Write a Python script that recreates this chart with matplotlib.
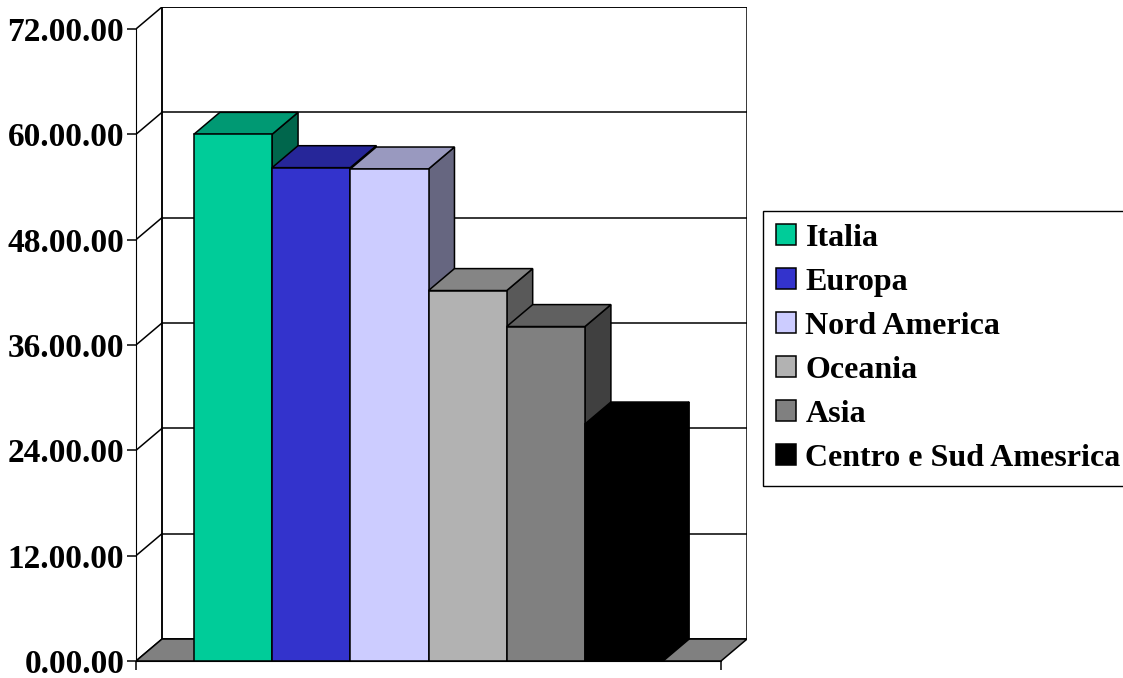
"""
Grafico a barre 3D (stile Excel): tempi per area geografica
"""

import matplotlib
matplotlib.use("Agg")
import matplotlib.pyplot as plt
from matplotlib.patches import Polygon, Rectangle, Patch

plt.rcParams.update({
    "font.family": ["Liberation Serif", "DejaVu Serif"],
    "font.weight": "bold",
})

# ──────────────────────────────────────────
# Dati
# ──────────────────────────────────────────
regions = ["Italia", "Europa", "Nord America", "Oceania", "Asia",
           "Centro e Sud Amesrica"]
values = [60.0, 56.2, 56.05, 42.2, 38.1, 27.0]
y_ticks = [0, 12, 24, 36, 48, 60, 72]
y_tick_labels = ["0.00.00", "12.00.00", "24.00.00", "36.00.00",
                 "48.00.00", "60.00.00", "72.00.00"]

# colori: fronte, top, lato
front_colors = ["#00CC99", "#3333CC", "#CCCCFF", "#B2B2B2", "#808080", "#000000"]
top_colors = ["#009973", "#262699", "#9999BF", "#858585", "#606060", "#000000"]
side_colors = ["#00664C", "#1A1A66", "#666680", "#595959", "#404040", "#000000"]

# ──────────────────────────────────────────
# Geometria (in unità dati)
# ──────────────────────────────────────────
X0 = -0.74          # bordo sinistro del pavimento
X1 = 6.74           # bordo destro del pavimento
DX = 0.332          # profondità in x
DY = 2.5            # profondità in y
YMAX = y_ticks[-1]

W, H = 1123, 678
fig = plt.figure(figsize=(W / 100, H / 100), dpi=100)
ax = fig.add_axes([136 / W, 17 / H, 611 / W, 654 / H])
ax.set_xlim(X0, X1 + DX)
ax.set_ylim(0, YMAX + DY)

LW = 1.1

# parete di fondo
ax.add_patch(Rectangle((X0 + DX, DY), X1 - X0, YMAX, facecolor="white",
                       edgecolor="black", linewidth=LW, zorder=1))
for v in y_ticks:
    ax.plot([X0 + DX, X1 + DX], [v + DY, v + DY], color="black", lw=LW, zorder=1)
    # parete laterale sinistra
    ax.plot([X0, X0 + DX], [v, v + DY], color="black", lw=LW, zorder=1)
ax.plot([X0 + DX, X0 + DX], [DY, YMAX + DY], color="black", lw=LW, zorder=1)

# pavimento
ax.add_patch(Polygon([(X0, 0), (X1, 0), (X1 + DX, DY), (X0 + DX, DY)],
                     closed=True, facecolor="#808080", edgecolor="black",
                     linewidth=LW, zorder=2))

# barre, da sinistra a destra
for i, (v, fc, tc, sc) in enumerate(zip(values, front_colors, top_colors, side_colors)):
    x = float(i)
    z = 3 + i
    ax.add_patch(Polygon([(x + 1, 0), (x + 1 + DX, DY), (x + 1 + DX, v + DY), (x + 1, v)],
                         closed=True, facecolor=sc, edgecolor="black",
                         linewidth=LW, zorder=z))
    ax.add_patch(Polygon([(x, v), (x + 1, v), (x + 1 + DX, v + DY), (x + DX, v + DY)],
                         closed=True, facecolor=tc, edgecolor="black",
                         linewidth=LW, zorder=z))
    ax.bar(x, v, width=1, align="edge", color=fc, edgecolor="black",
           linewidth=LW, zorder=z)

# assi
for s in ["top", "right"]:
    ax.spines[s].set_visible(False)
ax.spines["left"].set_bounds(0, YMAX)
ax.spines["bottom"].set_bounds(X0, X1)
ax.spines["left"].set_zorder(20)
ax.spines["bottom"].set_zorder(20)
ax.set_yticks(y_ticks)
ax.set_yticklabels(y_tick_labels)
ax.set_xticks([X0, X1])
ax.set_xticklabels(["", ""])
ax.tick_params(axis="both", direction="out", length=6.5, width=LW, pad=2,
               labelsize=24)
ax.set_facecolor("none")

# legenda
handles = [Patch(facecolor=c, edgecolor="black", linewidth=LW) for c in front_colors]
fig.legend(handles, regions, loc="upper left",
           bbox_to_anchor=(763 / W, 1 - 211 / H), borderaxespad=0,
           prop={"family": "Liberation Serif", "weight": "bold", "size": 23},
           frameon=True, fancybox=False, framealpha=1, edgecolor="black",
           handlelength=0.63, handleheight=0.63, handletextpad=0.3,
           labelspacing=0.47, borderpad=0.4)

fig.savefig("out.png", dpi=100)
plt.close(fig)
